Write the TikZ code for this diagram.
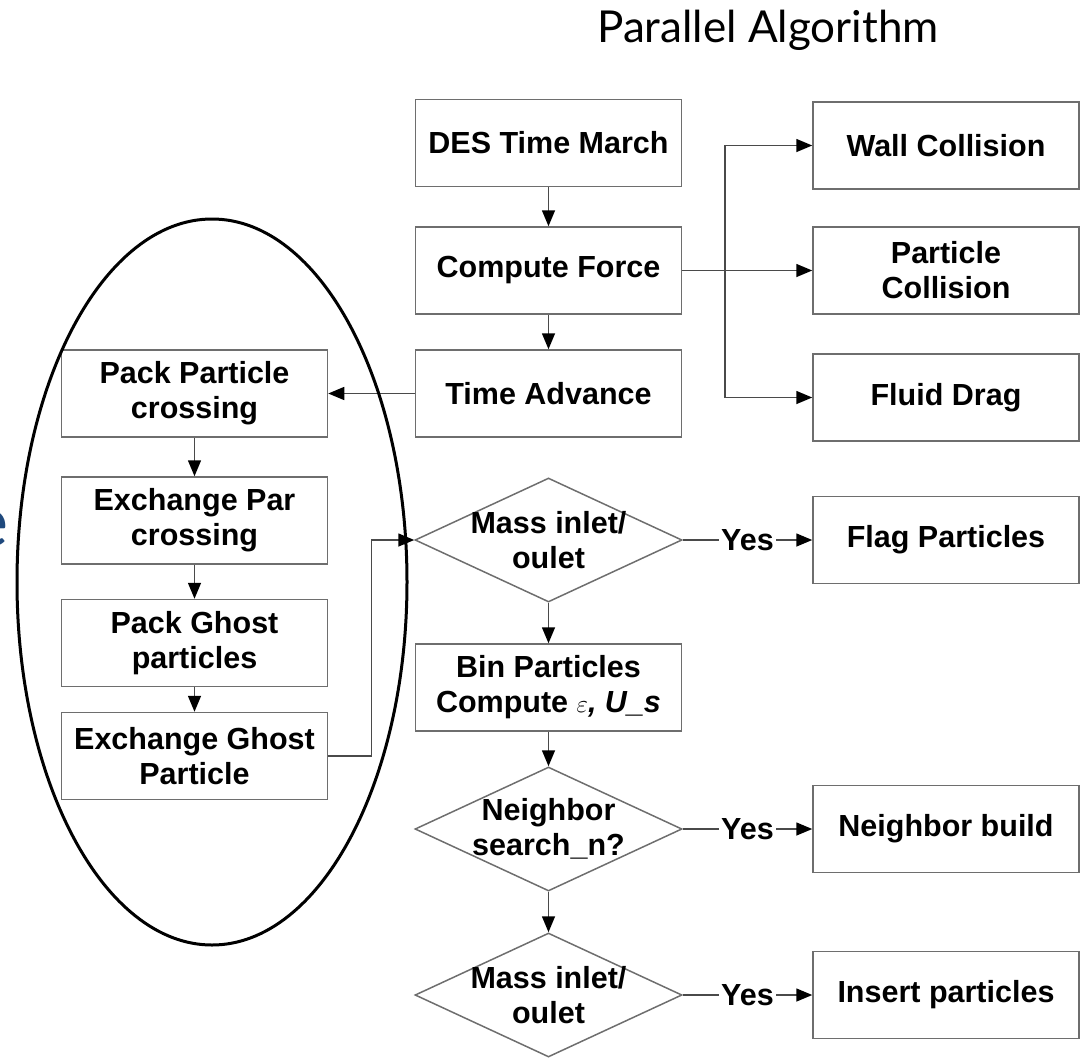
\documentclass[tikz,border=0pt]{standalone}
\usepackage{fontspec}
\setmainfont{Liberation Sans}
\newfontfamily\titlefont{Lato}
\usetikzlibrary{shapes}
\usetikzlibrary{arrows.meta}

\definecolor{boxgray}{HTML}{6E6E6E}
\definecolor{linegray}{HTML}{4A4A4A}
\definecolor{slideblue}{RGB}{31,73,125}

\tikzset{
	stepbox/.style={rectangle,draw=boxgray,line width=1.5pt,minimum width=266pt,minimum height=87pt,
		inner sep=0pt,align=center,font=\fontsize{30.5}{35}\selectfont\bfseries},
	decision/.style={diamond,draw=boxgray,line width=1.5pt,minimum width=267pt,minimum height=124pt,inner sep=0pt},
	decisiontext/.style={align=center,font=\fontsize{30.5}{35}\selectfont\bfseries,inner sep=0pt},
	flow/.style={draw=linegray,line width=1.5pt,-{Triangle[length=16pt,width=13pt,color=black]}},
	yeslabel/.style={fill=white,inner sep=2pt,font=\fontsize{30.5}{35}\selectfont\bfseries}
}

\begin{document}
\begin{tikzpicture}[x=1pt,y=-1pt]
	\useasboundingbox (0,0) rectangle (1081,1057);

	\node[font=\titlefont\fontsize{44}{48}\selectfont,inner sep=0pt] (title) at (768,30) {Parallel Algorithm};
	\node[anchor=base east,font=\titlefont\fontsize{70}{74}\selectfont,text=slideblue,inner sep=0pt] (cut) at (9,546) {e};

	% main column
	\node[stepbox] (march) at (548.5,143) {DES Time March};
	\node[stepbox] (force) at (548.5,270.5) {Compute Force};
	\node[stepbox] (advance) at (548.5,393.5) {Time Advance};
	\node[decision,label={[decisiontext]center:Mass inlet/\\oulet}] (inlet) at (548.5,540) {};
	\node[stepbox] (bin) at (548.5,687.5) {Bin Particles\\Compute $\varepsilon$\textit{, U\_s}};
	\node[decision,label={[decisiontext]center:Neighbor\\search\_n?}] (search) at (548.5,829) {};
	\node[decision,label={[decisiontext]center:Mass inlet/\\oulet}] (outlet) at (548.5,995) {};

	% force terms and the yes branches
	\node[stepbox] (wall) at (946,145.5) {Wall Collision};
	\node[stepbox] (pcoll) at (946,270.5) {Particle\\Collision};
	\node[stepbox] (drag) at (946,397.5) {Fluid Drag};
	\node[stepbox] (flag) at (946,540) {Flag Particles};
	\node[stepbox] (nbuild) at (946,829) {Neighbor build};
	\node[stepbox] (insert) at (946,995) {Insert particles};

	% communication steps
	\node[stepbox] (packpar) at (194.5,393.5) {Pack Particle\\crossing};
	\node[stepbox] (xchpar) at (194.5,520.5) {Exchange Par\\crossing};
	\node[stepbox] (packghost) at (194.5,643) {Pack Ghost\\particles};
	\node[stepbox] (xchghost) at (194.5,756) {Exchange Ghost\\Particle};

	\draw[flow] (march) -- (force);
	\draw[flow] (force) -- (advance);
	\draw[flow] (force.east) -- ++(42.5,0) |- (wall.west);
	\draw[flow] (force.east) -- (pcoll.west);
	\draw[flow] (force.east) -- ++(42.5,0) |- (drag.west);
	\draw[flow] (advance.west) -- (packpar.east);
	\draw[flow] (packpar) -- (xchpar);
	\draw[flow] (xchpar) -- (packghost);
	\draw[flow] (packghost) -- (xchghost);
	\draw[flow] (xchghost.east) -- ++(43,0) |- (inlet.west);
	\draw[flow] (inlet) -- (bin);
	\draw[flow] (bin) -- (search);
	\draw[flow] (search) -- (outlet);
	\draw[flow] (inlet.east) -- node[yeslabel]{Yes} (flag.west);
	\draw[flow] (search.east) -- node[yeslabel]{Yes} (nbuild.west);
	\draw[flow] (outlet.east) -- node[yeslabel]{Yes} (insert.west);

	% ring round the exchange steps
	\draw[black,line width=3pt] (212,582) ellipse [x radius=195pt,y radius=363pt];
\end{tikzpicture}
\end{document}
